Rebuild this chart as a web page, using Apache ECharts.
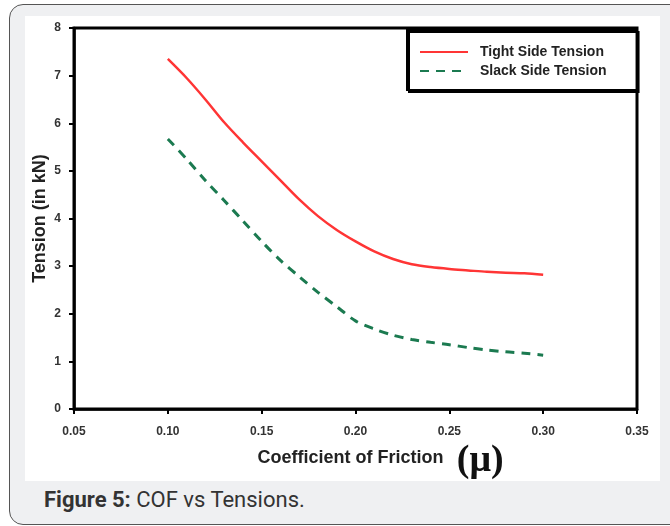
<html>
<head>
<meta charset="utf-8"/>
<title>COF vs Tensions</title>
<script src="https://cdn.jsdelivr.net/npm/echarts@6/dist/echarts.min.js"></script>
<style>
  body {
    margin: 0;
    padding: 0;
    background: #ffffff;
    font-family: "Liberation Sans", Arial, sans-serif;
  }
  .frame {
    position: absolute;
    left: 9px;
    top: 4px;
    width: 680px;
    height: 519px;
    border: 1.5px solid #555;
    border-radius: 14px;
    background: #eff0f2;
  }
  .panel {
    position: absolute;
    left: 25px;
    top: 16px;
    width: 635px;
    height: 465px;
    background: #ffffff;
  }
  #chart {
    width: 635px;
    height: 465px;
  }
  .caption {
    position: absolute;
    left: 44px;
    top: 487px;
    font-family: Roboto, "Liberation Sans", sans-serif;
    font-size: 22px;
    color: #333;
  }
</style>
</head>
<body>
<div class="frame"></div>
<div class="panel"><div id="chart"></div></div>
<div class="caption"><b>Figure 5:</b> COF vs Tensions.</div>
<script type="text/javascript">
// coefficient of friction (x) and the two tensions in kN
const muValues = [0.10, 0.11, 0.12, 0.13, 0.14, 0.15, 0.16, 0.17, 0.18, 0.19, 0.20,
                  0.21, 0.22, 0.23, 0.24, 0.25, 0.26, 0.27, 0.28, 0.29, 0.30];
const tightTension = [7.35, 6.95, 6.50, 6.02, 5.60, 5.20, 4.80, 4.40, 4.05, 3.76, 3.52,
                      3.31, 3.15, 3.04, 2.98, 2.94, 2.91, 2.88, 2.86, 2.85, 2.82];
const slackTension = [5.67, 5.25, 4.80, 4.38, 3.95, 3.52, 3.12, 2.78, 2.45, 2.15, 1.85,
                      1.68, 1.55, 1.46, 1.40, 1.35, 1.29, 1.24, 1.20, 1.17, 1.13];

let chart = echarts.init(document.getElementById('chart'));

function pairs(ys) {
  return muValues.map((x, i) => [x, ys[i]]);
}

const tickFont = {
  fontFamily: 'Liberation Sans',
  fontWeight: 'bold',
  fontSize: 12,
  color: '#333'
};

chart.setOption({
  animation: false,
  grid: {
    left: 49,
    top: 12,
    right: 23,
    bottom: 72,
    containLabel: false,
    outerBoundsMode: 'none',
    show: true,
    borderColor: '#000',
    borderWidth: 3
  },
  legend: {
    left: 382,
    top: 14,
    orient: 'vertical',
    backgroundColor: '#fff',
    borderColor: '#000',
    borderWidth: 2,
    shadowColor: '#000',
    shadowOffsetX: 2,
    shadowOffsetY: 2,
    shadowBlur: 0,
    padding: [15, 30, 12, 12],
    itemWidth: 48,
    itemHeight: 14,
    itemGap: 5,
    itemStyle: {opacity: 0},
    textStyle: {
      fontFamily: 'Liberation Sans',
      fontWeight: 'bold',
      fontSize: 14,
      color: '#222',
      padding: [0, 0, 0, 7]
    }
  },
  xAxis: {
    type: 'value',
    min: 0.05,
    max: 0.35,
    interval: 0.05,
    name: '{a|Coefficient of Friction}    {b|(μ)}',
    nameLocation: 'middle',
    nameGap: 33,
    nameMoveOverlap: false,
    nameTextStyle: {
      padding: [0, 0, 0, 50],
      rich: {
        a: {
          fontFamily: 'Liberation Sans',
          fontWeight: 'bold',
          fontSize: 18,
          color: '#222',
          padding: [0, 0, 6, 0]
        },
        b: {
          fontFamily: 'Liberation Serif',
          fontWeight: 'bold',
          fontSize: 38,
          color: '#111'
        }
      }
    },
    axisLine: {lineStyle: {color: '#000', width: 2.5}},
    axisTick: {show: true, length: 5, lineStyle: {color: '#000', width: 2}},
    axisLabel: Object.assign({
      margin: 17,
      formatter: (v) => v.toFixed(2)
    }, tickFont),
    splitLine: {show: false}
  },
  yAxis: {
    type: 'value',
    min: 0,
    max: 8,
    interval: 1,
    name: 'Tension (in kN)',
    nameLocation: 'middle',
    nameGap: 25,
    nameMoveOverlap: false,
    nameTextStyle: {
      fontFamily: 'Liberation Sans',
      fontWeight: 'bold',
      fontSize: 18,
      color: '#222'
    },
    axisLine: {show: true, lineStyle: {color: '#000', width: 2.5}},
    axisTick: {show: true, length: 5, lineStyle: {color: '#000', width: 2}},
    axisLabel: Object.assign({margin: 13}, tickFont),
    splitLine: {show: false}
  },
  series: [
    {
      name: 'Tight Side Tension',
      type: 'line',
      symbol: 'none',
      smooth: 0.3,
      data: pairs(tightTension),
      lineStyle: {color: '#ff3535', width: 2.5},
      itemStyle: {color: '#ff3535'}
    },
    {
      name: 'Slack Side Tension',
      type: 'line',
      symbol: 'none',
      smooth: 0.3,
      data: pairs(slackTension),
      lineStyle: {color: '#1b7a50', width: 3, type: [9, 7]},
      itemStyle: {color: '#1b7a50'}
    }
  ]
});
</script>
</body>
</html>
